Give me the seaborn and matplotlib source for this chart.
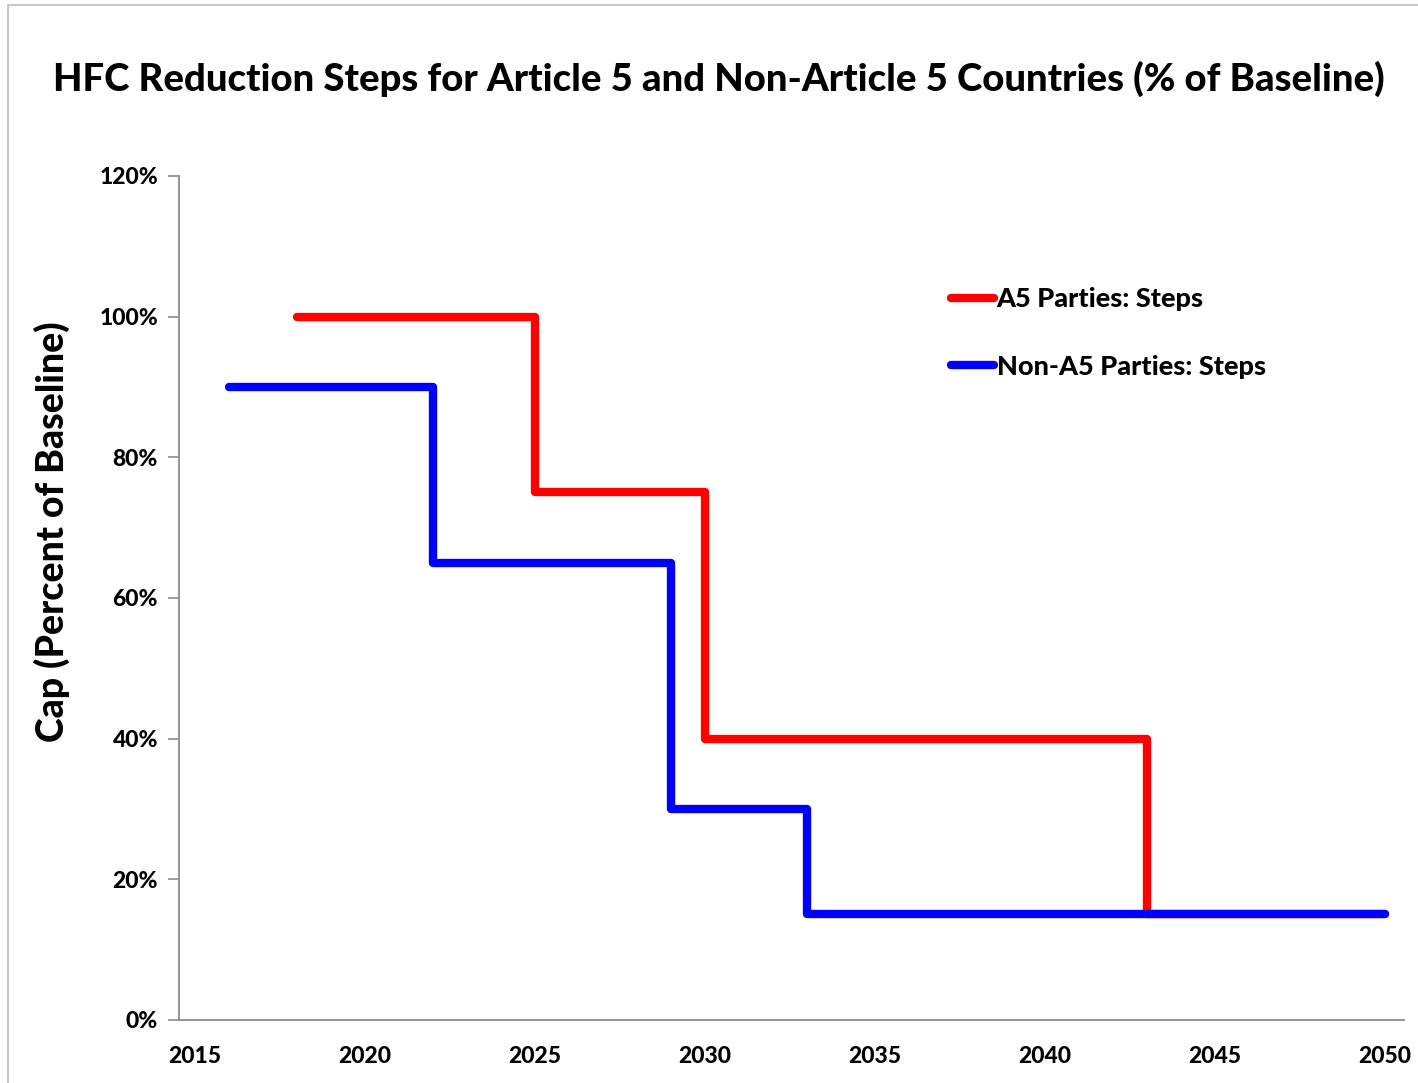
import pandas as pd
import seaborn as sns
import matplotlib.pyplot as plt
from matplotlib.patches import Rectangle
from matplotlib.ticker import FixedLocator, PercentFormatter

# step start years and cap levels (fraction of baseline)
a5_years = [2018, 2025, 2030, 2043, 2050]
a5_caps = [1.00, 0.75, 0.40, 0.15, 0.15]
non_a5_years = [2016, 2022, 2029, 2033, 2050]
non_a5_caps = [0.90, 0.65, 0.30, 0.15, 0.15]
year_labels = [2015, 2020, 2025, 2030, 2035, 2040, 2045, 2050]

df = pd.concat([
    pd.DataFrame({'year': a5_years, 'cap': a5_caps, 'series': 'A5 Parties: Steps'}),
    pd.DataFrame({'year': non_a5_years, 'cap': non_a5_caps, 'series': 'Non-A5 Parties: Steps'}),
])

sns.set_style('white')
plt.rcParams['font.family'] = ['Lato', 'DejaVu Sans']
plt.rcParams['text.color'] = 'black'
plt.rcParams['axes.labelcolor'] = 'black'
plt.rcParams['xtick.labelcolor'] = 'black'
plt.rcParams['ytick.labelcolor'] = 'black'

fig = plt.figure(figsize=(14.18, 10.83), dpi=100)
ax = fig.add_axes([0.1262, 0.0582, 0.8639, 0.7793])

sns.lineplot(data=df, x='year', y='cap', hue='series', sort=False,
             palette={'A5 Parties: Steps': '#ff0000', 'Non-A5 Parties: Steps': '#0000ff'},
             drawstyle='steps-post', linewidth=6, solid_capstyle='round', ax=ax)

ax.set_xlim(2014.53, 2050.56)
ax.set_ylim(0, 1.2)
ax.set_yticks([0, 0.2, 0.4, 0.6, 0.8, 1.0, 1.2])
ax.yaxis.set_major_formatter(PercentFormatter(1.0, decimals=0))

# tick marks sit half a year left of the labels (category-style axis)
ax.set_xticks(year_labels)
ax.set_xticklabels([str(y) for y in year_labels])
ax.xaxis.set_minor_locator(FixedLocator([y - 0.5 for y in year_labels]))
ax.tick_params(axis='x', which='major', length=0, pad=19, labelsize=16.5)
ax.tick_params(axis='x', which='minor', length=7, width=1.2, color='#8c8c8c', direction='out')
ax.tick_params(axis='y', which='major', length=8, width=1.2, color='#8c8c8c',
               direction='out', left=True, pad=7, labelsize=16.5)
for lab in ax.get_xticklabels() + ax.get_yticklabels():
    lab.set_fontweight('black')

for side in ['top', 'right']:
    ax.spines[side].set_visible(False)
for side in ['left', 'bottom']:
    ax.spines[side].set_color('#8c8c8c')
    ax.spines[side].set_linewidth(1.3)

ax.set_xlabel('')
ax.set_ylabel('')
fig.text(52 / 1418, 1 - 532 / 1083, 'Cap (Percent of Baseline)', rotation=90,
         ha='center', va='center', fontsize=27, fontweight='black')

fig.text(0.507, 0.927, 'HFC Reduction Steps for Article 5 and Non-Article 5 Countries (% of Baseline)',
         ha='center', va='center', fontsize=27.5, fontweight='black')

leg = ax.legend(loc='upper left', bbox_to_anchor=(0.61, 0.897), frameon=False,
                handlelength=1.6, handletextpad=0.1, labelspacing=1.6,
                prop={'size': 19.5, 'weight': 'black'})
for line in leg.get_lines():
    line.set_linewidth(6)
    line.set_solid_capstyle('round')

# chart area border
fig.patches.append(Rectangle((8 / 1418, -0.1), 1.2, 1.0 - 5 / 1083 + 0.1,
                             transform=fig.transFigure, fill=False,
                             edgecolor='#bdbdbd', linewidth=1.2))

fig.savefig('out.png', dpi=100)
